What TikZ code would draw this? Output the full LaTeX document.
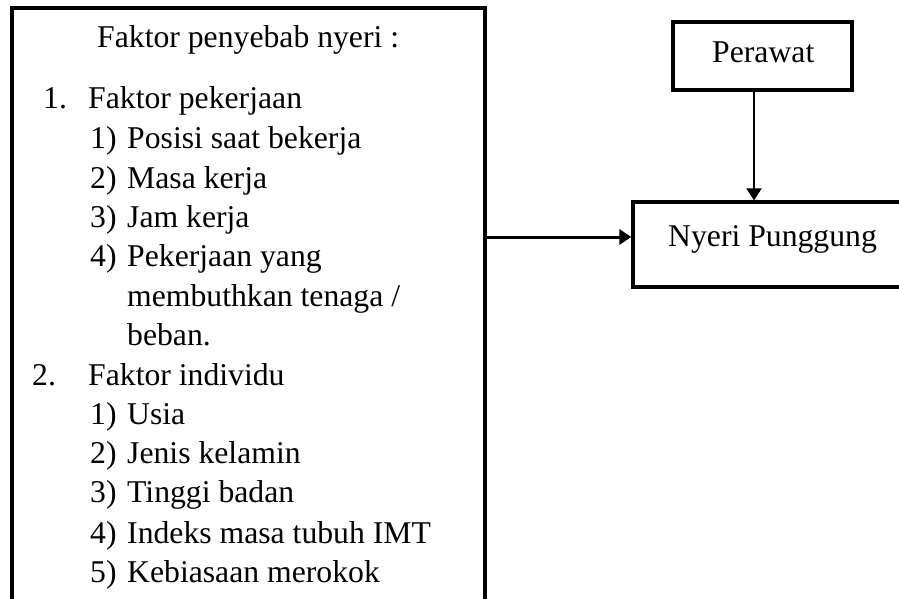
\documentclass[tikz,border=0pt]{standalone}
\usepackage{fontspec}
\setmainfont{Liberation Serif}
\usetikzlibrary{arrows.meta}
\begin{document}
\begin{tikzpicture}[x=1pt,y=-1pt,
  boxst/.style={draw=black,line width=3.3pt,rectangle,inner sep=0pt},
  txt/.style={anchor=base west,inner sep=0pt,font=\fontsize{31.7}{38}\selectfont},
  arr/.style={-{Triangle[length=12pt,width=15pt]},line width=2.6pt}]
\useasboundingbox (0,0) rectangle (899,599);
\clip (0,0) rectangle (899,599);
\fill[white] (0,0) rectangle (899,599);
% boxes
\node[boxst,minimum width=473pt,minimum height=640pt] (L) at (248.5,328) {};
\node[boxst,minimum width=179pt,minimum height=68pt] (P) at (762.5,56) {};
\node[boxst,minimum width=272pt,minimum height=85pt] (N) at (769,244.5) {};
% box texts
\node[txt] (pt) at (712,63) {Perawat};
\node[txt] (nt) at (668,246) {Nyeri Punggung};
\node[txt] (t0) at (97,48) {Faktor penyebab nyeri :};
\node[txt] (n1) at (43,109) {1.};
\node[txt] (f1) at (88,109) {Faktor pekerjaan};
\node[txt] (a1) at (90,149) {1)};
\node[txt] (b1) at (127,149) {Posisi saat bekerja};
\node[txt] (a2) at (90,188) {2)};
\node[txt] (b2) at (127,188) {Masa kerja};
\node[txt] (a3) at (90,227) {3)};
\node[txt] (b3) at (127,227) {Jam kerja};
\node[txt] (a4) at (90,266) {4)};
\node[txt] (b4) at (127,266) {Pekerjaan yang};
\node[txt] (b4b) at (127,306) {membuthkan tenaga /};
\node[txt] (b4c) at (127,345) {beban.};
\node[txt] (n2) at (32,385) {2.};
\node[txt] (f2) at (88,385) {Faktor individu};
\node[txt] (c1) at (90,424) {1)};
\node[txt] (d1) at (127,424) {Usia};
\node[txt] (c2) at (90,463) {2)};
\node[txt] (d2) at (127,463) {Jenis kelamin};
\node[txt] (c3) at (90,502) {3)};
\node[txt] (d3) at (127,502) {Tinggi badan};
\node[txt] (c4) at (90,543) {4)};
\node[txt] (d4) at (127,543) {Indeks masa tubuh IMT};
\node[txt] (c5) at (90,582) {5)};
\node[txt] (d5) at (127,582) {Kebiasaan merokok};
% connectors
\draw[arr,line width=3pt] (L.east |- 0,237) -- (N.west |- 0,237);
\draw[arr,line width=2.2pt] (P.south -| 754,0) -- (N.north -| 754,0);
\end{tikzpicture}
\end{document}
